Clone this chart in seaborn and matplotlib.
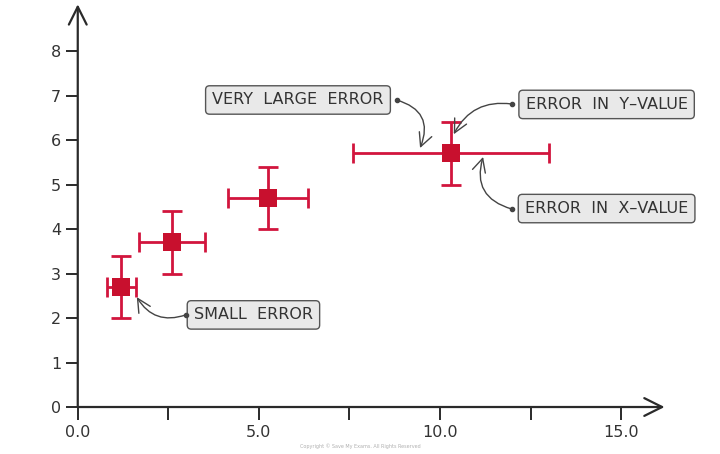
import pandas as pd
import matplotlib.pyplot as plt
import seaborn as sns

sns.set_theme(style="white")
plt.rcParams['font.family'] = ['DejaVu Sans']

# data
x_vals = [1.2, 2.6, 5.25, 10.3]
y_vals = [2.7, 3.7, 4.7, 5.7]
x_err = [0.4, 0.9, 1.1, 2.7]
y_err = [0.7, 0.7, 0.7, 0.7]

x_ticks = [0, 5, 10, 15]
x_tick_labels = ["0.0", "5.0", "10.0", "15.0"]
x_minor = [2.5, 7.5, 12.5]
y_ticks = [0, 1, 2, 3, 4, 5, 6, 7, 8]

# label text, box centre, arrow start (dot), arrow end, curvature
labels = ["VERY  LARGE  ERROR", "ERROR  IN  Y–VALUE", "ERROR  IN  X–VALUE", "SMALL  ERROR"]
label_xy = [(6.08, 6.9), (14.6, 6.8), (14.6, 4.46), (4.85, 2.07)]
dot_xy = [(8.8, 6.9), (11.98, 6.81), (11.98, 4.45), (2.98, 2.07)]
tip_xy = [(9.45, 5.82), (10.38, 6.13), (11.19, 5.62), (1.63, 2.47)]
curve = [-0.55, 0.35, -0.5, -0.4]

df = pd.DataFrame({"x": x_vals, "y": y_vals})

red = "#d2153d"
ink = "#2a2a2a"

fig = plt.figure(figsize=(7.2, 4.54), dpi=100)
ax = fig.add_axes([0.108, 0.1035, 0.815, 0.887])

ax.errorbar(x_vals, y_vals, xerr=x_err, yerr=y_err, fmt="none", ecolor=red,
            elinewidth=2, capsize=7.5, capthick=2, zorder=3)
sns.scatterplot(data=df, x="x", y="y", marker="s", s=170, color="#c8102e",
                edgecolor="#c8102e", linewidth=0, ax=ax, zorder=4)

ax.set_xlim(0, 16.2)
ax.set_ylim(0, 9.05)
ax.set_xlabel("")
ax.set_ylabel("")

for s in ax.spines.values():
    s.set_visible(False)

# axes drawn as arrows
arrow_kw = dict(arrowstyle="->", lw=1.6, color=ink, mutation_scale=32,
                shrinkA=0, shrinkB=0)
ax.annotate("", xy=(1, 0), xytext=(0, 0), xycoords="axes fraction",
            arrowprops=arrow_kw, annotation_clip=False)
ax.annotate("", xy=(0, 1), xytext=(0, 0), xycoords="axes fraction",
            arrowprops=arrow_kw, annotation_clip=False)

ax.set_xticks(x_ticks)
ax.set_xticklabels(x_tick_labels)
ax.set_xticks(x_minor, minor=True)
ax.set_yticks(y_ticks)
ax.tick_params(axis="both", which="both", direction="out", length=9, width=1.4,
               color=ink, labelsize=11.5, labelcolor="#333333",
               bottom=True, left=True)
ax.tick_params(axis="x", pad=4)
ax.tick_params(axis="y", pad=3)

# call-out labels
for txt, lxy, dxy, txy, rad in zip(labels, label_xy, dot_xy, tip_xy, curve):
    ax.text(lxy[0], lxy[1], txt, ha="center", va="center", fontsize=11.5,
            color="#333333", zorder=6,
            bbox=dict(boxstyle="round,pad=0.42,rounding_size=0.25",
                      fc="#e9e9e9", ec="#555555", lw=1.0))
    ax.annotate("", xy=txy, xytext=dxy, zorder=5,
                arrowprops=dict(arrowstyle="->", lw=1.0, color="#444444",
                                mutation_scale=24, shrinkA=0, shrinkB=0,
                                connectionstyle=f"arc3,rad={rad}"))
    ax.plot(dxy[0], dxy[1], "o", ms=3, color="#444444", zorder=7)

fig.text(0.5, 0.012, "Copyright © Save My Exams. All Rights Reserved",
         ha="center", va="bottom", fontsize=3.5, color="#b0b0b0")

fig.savefig("out.png", dpi=100)
